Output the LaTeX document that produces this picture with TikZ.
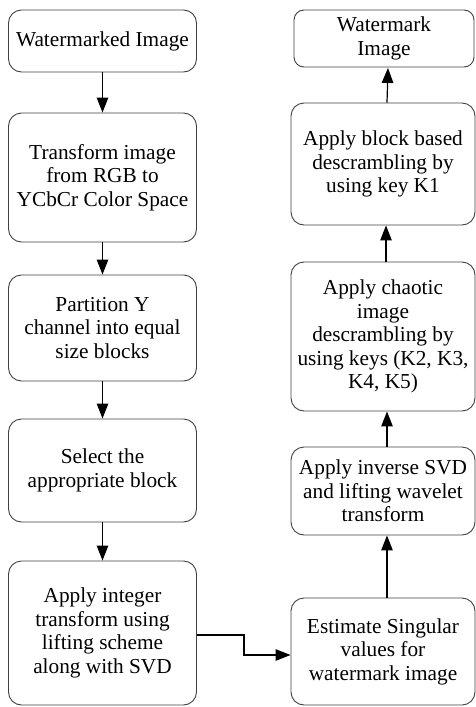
\documentclass[tikz,border=0pt]{standalone}
\usepackage{fontspec}
\setmainfont{Liberation Serif}
\usetikzlibrary{arrows.meta}
\begin{document}
\begin{tikzpicture}[x=1pt,y=-1pt,
  stepbox/.style={draw=black!75,line width=0.9pt,rounded corners=13pt,
    align=center,inner sep=0pt,
    font=\fontsize{21.3}{23.5}\selectfont},
  arr/.style={draw=black,line width=1.2pt,
    -{Triangle[length=15pt,width=11.5pt]}}]
\useasboundingbox (0,0) rectangle (476,707);
% left column: embedding steps
\node[stepbox,minimum width=188pt,minimum height=62pt] (n1) at (102.5,41) {Watermarked Image};
\node[stepbox,minimum width=188pt,minimum height=129pt] (n2) at (102.5,177.5) {Transform image\\from RGB to\\YCbCr Color Space};
\node[stepbox,minimum width=188pt,minimum height=106pt] (n3) at (102.5,328) {Partition Y\\channel into equal\\size blocks};
\node[stepbox,minimum width=188pt,minimum height=103pt] (n4) at (102.5,470.5) {Select the\\appropriate block};
\node[stepbox,minimum width=188pt,minimum height=144pt] (n5) at (102.5,633) {Apply integer\\transform using\\lifting scheme\\along with SVD};
% right column: extraction steps
\node[stepbox,minimum width=180pt,minimum height=57pt,rounded corners=10pt] (r1) at (384,38.5) {Watermark\\Image};
\node[stepbox,minimum width=184pt,minimum height=122pt] (r2) at (383,164) {Apply block based\\descrambling by\\using key K1};
\node[stepbox,minimum width=184pt,minimum height=149pt] (r3) at (383,336.5) {Apply chaotic\\image\\descrambling by\\using keys (K2, K3,\\K4, K5)};
\node[stepbox,minimum width=184pt,minimum height=88pt] (r4) at (383,491) {Apply inverse SVD\\and lifting wavelet\\transform};
\node[stepbox,minimum width=184pt,minimum height=107pt] (r5) at (383,651.5) {Estimate Singular\\values for\\watermark image};
% connectors
\draw[arr] (n1) -- (n2);
\draw[arr] (n2) -- (n3);
\draw[arr] (n3) -- (n4);
\draw[arr] (n4) -- (n5);
\draw[arr] ([yshift=-2pt]n5.east) -- ++(47,0) |- ([yshift=-3.5pt]r5.west);
\draw[arr] ([xshift=4pt]r5.north) -- ([xshift=4pt]r4.south);
\draw[arr] ([xshift=4pt]r4.north) -- ([xshift=4pt]r3.south);
\draw[arr] ([xshift=3pt]r3.north) -- ([xshift=3pt]r2.south);
\draw[arr] ([xshift=4pt]r2.north) -- ([xshift=4pt,yshift=-0.5pt]r1.south);
\end{tikzpicture}
\end{document}
